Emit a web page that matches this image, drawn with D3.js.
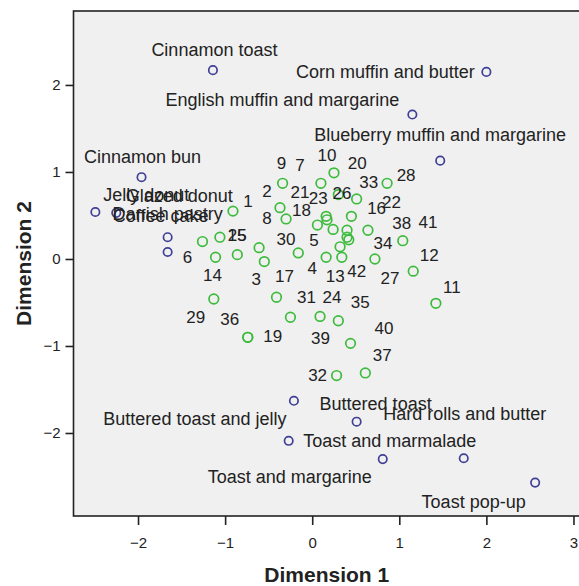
<!DOCTYPE html>
<html>
<head>
<meta charset="utf-8">
<script src="https://cdn.jsdelivr.net/npm/d3@7"></script>
<style>
  html, body { margin: 0; padding: 0; background: #ffffff; }
  svg { display: block; }
</style>
</head>
<body>
<svg id="chart" width="579" height="586"></svg>
<script>
// ---------- DATA ----------
const stimulusNames = [
  "Cinnamon toast", "Corn muffin and butter", "English muffin and margarine",
  "Blueberry muffin and margarine", "Cinnamon bun", "Jelly donut", "Glazed donut",
  "Danish pastry", "Coffee cake", "Buttered toast and jelly", "Buttered toast",
  "Toast and marmalade", "Toast and margarine", "Hard rolls and butter", "Toast pop-up"
];
const stimulusDim1 = [-1.14, 2.00, 1.15, 1.47, -1.96, -2.49, -2.25, -1.66, -1.66, -0.21, 0.51, -0.27, 0.81, 1.74, 2.56];
const stimulusDim2 = [2.17, 2.15, 1.66, 1.13, 0.94, 0.54, 0.53, 0.25, 0.08, -1.63, -1.87, -2.09, -2.30, -2.29, -2.57];

const respondentIds = ["1","2","3","4","5","6","7","8","9","10","11","12","13","14","15","16","17","18","19","20","21",
  "22","23","24","25","26","27","28","29","30","31","32","33","34","35","36","37","38","39","40","41","42"];
const respondentDim1 = [-0.91, -0.37, -0.55, -0.16, 0.24, -1.26, 0.10, -0.30, -0.34, 0.25, 1.42, 1.16, 0.16, -1.11,
  -1.06, 0.51, -0.41, 0.06, -0.74, 0.30, 0.17, 0.45, 0.16, 0.09, -0.86, 0.40, 0.72, 0.86, -1.13, -0.61, -0.25,
  0.28, 0.42, 0.64, 0.30, -0.74, 0.61, 1.04, 0.44, 0.32, 0.40, 0.34];
const respondentDim2 = [0.55, 0.59, -0.03, 0.07, 0.34, 0.20, 0.87, 0.46, 0.87, 0.99, -0.51, -0.14, 0.02, 0.02,
  0.25, 0.69, -0.44, 0.39, -0.90, 0.74, 0.45, 0.49, 0.49, -0.66, 0.05, 0.33, 0.00, 0.87, -0.46, 0.13, -0.67,
  -1.34, 0.22, 0.33, -0.71, -0.90, -1.31, 0.21, -0.97, 0.14, 0.25, 0.02];

const xTickValues = [-2, -1, 0, 1, 2, 3];
const yTickValues = [-2, -1, 0, 1, 2];
const xTitle = "Dimension 1";
const yTitle = "Dimension 2";

// ---------- LAYOUT (label placement, px offsets from each point) ----------
const stimulusLabelOffsets = [
  [1.5, -20], [-101, 0], [-130, -15], [0, -26], [1, -20], [51, -17], [63, -17],
  [0, -24], [-7, -36], [-99, 18], [19, -18], [101, 0], [-93, 18], [1, -45], [-61.5, 19]
];
const respondentLabelOffsets = [
  [15,-10], [-13,-17], [-8,17], [14,15], [-19,11], [-15,15], [-21,-18], [-19,-1], [-1,-20], [-7,-18],
  [16,-16], [16,-16], [9,19], [-3,18], [17,-2], [20,9], [8,-21], [-16,-15], [25,-1], [19,-32],
  [-27,-28], [40,-14], [-8,-18], [12,-19], [0,-20], [-5,-37], [15,19], [19,-8], [-18,18], [27,-9],
  [16,-20], [-19,-1], [20,-58], [15,13], [22,-19], [-18,-18], [17,-18], [-1,-18], [-30,-5], [44,81],
  [81,-15], [15,14]
];

// ---------- DRAW ----------
const svg = d3.select("#chart");
const plotLeft = 73.5, plotRight = 580, plotTop = 11, plotBottom = 516;

const x = d3.scaleLinear().domain([-2.741, 3.075]).range([plotLeft, plotRight]);
const y = d3.scaleLinear().domain([2.85, -2.954]).range([plotTop, plotBottom]);

const font = "'Liberation Sans', Arial, Helvetica, sans-serif";
const textColor = "#222222";
const blue = "#3f3f96";
const green = "#3dbb3d";

// plot background
svg.append("rect")
  .attr("x", plotLeft).attr("y", plotTop)
  .attr("width", plotRight - plotLeft + 10).attr("height", plotBottom - plotTop)
  .attr("fill", "#f0f0f0");

// axes
const xAxis = d3.axisBottom(x).tickValues(xTickValues).tickSize(9).tickPadding(12).tickFormat(d3.format("d"));
const yAxis = d3.axisLeft(y).tickValues(yTickValues).tickSize(8).tickPadding(5).tickFormat(d3.format("d"));

const gx = svg.append("g").attr("transform", `translate(0,${plotBottom})`).call(xAxis);
const gy = svg.append("g").attr("transform", `translate(${plotLeft},0)`).call(yAxis);
[gx, gy].forEach(g => {
  g.select(".domain").remove();
  g.selectAll(".tick line").attr("stroke", "#222").attr("stroke-width", 1.6);
  g.selectAll(".tick text").attr("fill", textColor).style("font-family", font).style("font-size", "15px");
});

// frame
svg.append("rect")
  .attr("x", plotLeft).attr("y", plotTop)
  .attr("width", plotRight - plotLeft + 10).attr("height", plotBottom - plotTop)
  .attr("fill", "none").attr("stroke", "#222").attr("stroke-width", 1.6);

// respondent points (green)
const respondents = respondentIds.map((id, i) => ({
  id, d1: respondentDim1[i], d2: respondentDim2[i], off: respondentLabelOffsets[i]
}));
const stimuli = stimulusNames.map((name, i) => ({
  name, d1: stimulusDim1[i], d2: stimulusDim2[i], off: stimulusLabelOffsets[i]
}));

svg.append("g").selectAll("circle").data(respondents).join("circle")
  .attr("cx", d => x(d.d1)).attr("cy", d => y(d.d2)).attr("r", 4.8)
  .attr("fill", "none").attr("stroke", green).attr("stroke-width", 1.7);

svg.append("g").selectAll("circle").data(stimuli).join("circle")
  .attr("cx", d => x(d.d1)).attr("cy", d => y(d.d2)).attr("r", 4.2)
  .attr("fill", "none").attr("stroke", blue).attr("stroke-width", 1.7);

svg.append("g").selectAll("text").data(respondents).join("text")
  .attr("x", d => x(d.d1) + d.off[0]).attr("y", d => y(d.d2) + d.off[1])
  .attr("dy", "0.35em").attr("text-anchor", "middle")
  .style("font-family", font).style("font-size", "17px").attr("fill", textColor)
  .text(d => d.id);

svg.append("g").selectAll("text").data(stimuli).join("text")
  .attr("x", d => x(d.d1) + d.off[0]).attr("y", d => y(d.d2) + d.off[1])
  .attr("dy", "0.35em").attr("text-anchor", "middle")
  .style("font-family", font).style("font-size", "18px").attr("fill", textColor)
  .text(d => d.name);

// axis titles
svg.append("text")
  .attr("x", (plotLeft + plotRight) / 2).attr("y", 582)
  .attr("text-anchor", "middle")
  .style("font-family", font).style("font-size", "21px").style("font-weight", "bold")
  .attr("fill", textColor).text(xTitle);

svg.append("text")
  .attr("transform", `translate(31,${(plotTop + plotBottom) / 2}) rotate(-90)`)
  .attr("text-anchor", "middle")
  .style("font-family", font).style("font-size", "21px").style("font-weight", "bold")
  .attr("fill", textColor).text(yTitle);
</script>
</body>
</html>
